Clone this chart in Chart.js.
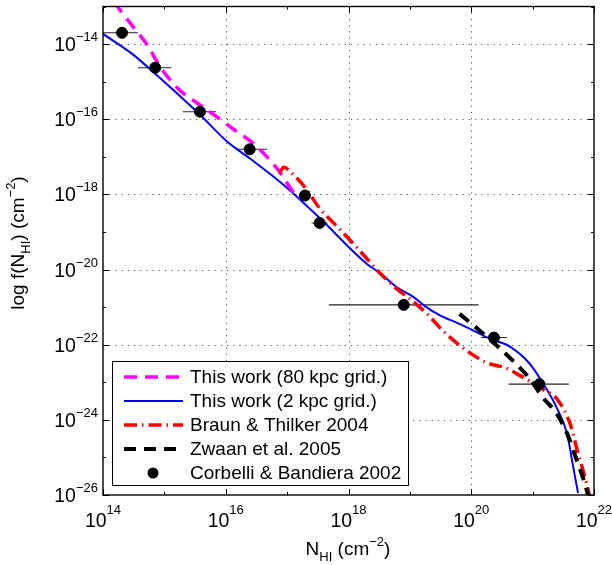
<!DOCTYPE html>
<html>
<head>
<meta charset="utf-8">
<script src="https://cdn.jsdelivr.net/npm/chart.js@4/dist/chart.umd.min.js"></script>
<style>
  body { margin: 0; background: #fff; }
  canvas { display: block; }
</style>
</head>
<body>
<canvas id="chart" width="612" height="565"></canvas>
<script>
/* =======================================================
   DATA (log10 values)
   ======================================================= */
const xTickExp = [14, 16, 18, 20, 22];
const yTickExp = [-14, -16, -18, -20, -22, -24, -26];

// This work (80 kpc grid.)
const coarseLogN = [14.18, 14.24, 14.49, 14.72, 14.93, 15.22, 15.58, 15.79, 16.12, 16.44, 16.67, 16.93, 17.09, 17.21];
const coarseLogF = [-12.87, -13.01, -13.54, -14.02, -14.60, -15.18, -15.62, -15.86, -16.26, -16.63, -17.00, -17.52, -17.92, -18.11];

// This work (2 kpc grid.)
const fineLogN = [14.00, 14.49, 14.81, 15.58, 16.02, 16.39, 16.93, 17.53, 18.30, 18.51, 18.79, 19.05, 19.25, 19.49, 19.77, 19.98, 20.30, 20.63, 20.95, 21.17, 21.39, 21.56, 21.65, 21.74];
const fineLogF = [-13.73, -14.28, -14.73, -15.88, -16.59, -17.04, -17.73, -18.63, -19.85, -20.09, -20.47, -20.72, -20.98, -21.22, -21.42, -21.58, -21.84, -22.05, -22.50, -23.03, -23.67, -24.36, -25.15, -25.95];

// Braun & Thilker 2004
const braunLogN = [16.87, 16.95, 17.08, 17.29, 17.53, 17.86, 18.19, 18.48, 18.79, 19.00, 19.28, 19.54, 19.86, 20.25, 20.55, 20.74, 21.20, 21.39, 21.61, 21.74, 21.88, 21.93];
const braunLogF = [-17.44, -17.28, -17.44, -17.81, -18.37, -18.93, -19.51, -20.04, -20.52, -20.78, -21.18, -21.63, -22.08, -22.48, -22.61, -22.77, -23.22, -23.43, -24.10, -24.89, -25.69, -26.05];

// Zwaan et al. 2005
const zwaanLogN = [19.81, 20.14, 20.42, 20.68, 20.95, 21.17, 21.39, 21.56, 21.72, 21.85, 21.91];
const zwaanLogF = [-21.18, -21.63, -22.03, -22.43, -22.90, -23.41, -23.83, -24.36, -25.08, -25.69, -26.05];

// Corbelli & Bandiera 2002 (with horizontal error bars)
const corbLogN   = [14.31, 14.85, 15.58, 16.39, 17.29, 17.53, 18.90, 20.37, 21.11];
const corbLogF   = [-13.70, -14.63, -15.80, -16.80, -18.03, -18.76, -20.94, -21.81, -23.05];
const corbLogNLo = [14.00, 14.57, 15.30, 16.17, 17.29, 17.40, 17.68, 20.16, 20.61];
const corbLogNHi = [14.57, 15.11, 15.84, 16.67, 17.29, 17.66, 20.12, 20.58, 21.59];

const FONT = '"Liberation Sans", Arial, sans-serif';

function pts(lx, ly) {
    return lx.map((v, i) => ({ x: 10 ** v, y: 10 ** ly[i] }));
}

/* =======================================================
   DATASETS
   ======================================================= */
const datasets = [
    {
        label: "This work (80 kpc grid.)",
        data: pts(coarseLogN, coarseLogF),
        showLine: true, borderColor: "#ff00ff", borderWidth: 3.5,
        borderDash: [13, 8], pointRadius: 0, cubicInterpolationMode: "monotone", order: 3
    },
    {
        label: "This work (2 kpc grid.)",
        data: pts(fineLogN, fineLogF),
        showLine: true, borderColor: "#0000ff", borderWidth: 2,
        pointRadius: 0, cubicInterpolationMode: "monotone", order: 4
    },
    {
        label: "Braun & Thilker 2004",
        data: pts(braunLogN, braunLogF),
        showLine: true, borderColor: "#ff0000", borderWidth: 3.5,
        borderDash: [13, 5, 1.5, 5], pointRadius: 0, cubicInterpolationMode: "monotone", order: 2
    },
    {
        label: "Zwaan et al. 2005",
        data: pts(zwaanLogN, zwaanLogF),
        showLine: true, borderColor: "#000000", borderWidth: 4,
        borderDash: [12, 8], pointRadius: 0, cubicInterpolationMode: "monotone", order: 1
    },
    {
        label: "Corbelli & Bandiera 2002",
        data: pts(corbLogN, corbLogF),
        showLine: false, pointRadius: 5.5, pointBackgroundColor: "#000",
        pointBorderColor: "#000", borderColor: "#000", order: 0
    }
];

// error bars, one two-point segment per measurement
corbLogN.forEach((v, i) => {
    datasets.push({
        isErr: true,
        data: pts([corbLogNLo[i], corbLogNHi[i]], [corbLogF[i], corbLogF[i]]),
        showLine: true, borderColor: "#222", borderWidth: 1.1, pointRadius: 0, order: 6
    });
});

/* =======================================================
   DRAW HELPERS
   ======================================================= */
// draw a run of text pieces: kind "n" normal, "sup", "sub"
function drawRich(ctx, parts, x, y, align, size, supSize, supRise, subDrop) {
    const widths = parts.map(p => {
        ctx.font = (p.k === "n" ? size : supSize) + "px " + FONT;
        return ctx.measureText(p.t).width;
    });
    const total = widths.reduce((a, b) => a + b, 0);
    let cx = align === "right" ? x - total : align === "center" ? x - total / 2 : x;
    ctx.textAlign = "left";
    ctx.textBaseline = "alphabetic";
    parts.forEach((p, i) => {
        ctx.font = (p.k === "n" ? size : supSize) + "px " + FONT;
        let yy = y;
        if (p.k === "sup") yy = y - supRise;
        if (p.k === "sub") yy = y + subDrop;
        ctx.fillText(p.t, cx, yy);
        cx += widths[i];
    });
}

function expLabel(e) {
    return String(e).replace("-", "\u2212");
}

const axesPlugin = {
    id: "axesPlugin",
    beforeDatasetsDraw(chart) {
        const { ctx, chartArea: a, scales } = chart;
        ctx.save();
        ctx.strokeStyle = "#555";
        ctx.lineWidth = 1;
        ctx.setLineDash([1.2, 5]);
        xTickExp.forEach(e => {
            const px = Math.round(scales.x.getPixelForValue(10 ** e)) + 0.5;
            if (px <= a.left + 1 || px >= a.right - 1) return;
            ctx.beginPath(); ctx.moveTo(px, a.top); ctx.lineTo(px, a.bottom); ctx.stroke();
        });
        yTickExp.forEach(e => {
            const py = Math.round(scales.y.getPixelForValue(10 ** e)) + 0.5;
            if (py <= a.top + 1 || py >= a.bottom - 1) return;
            ctx.beginPath(); ctx.moveTo(a.left, py); ctx.lineTo(a.right, py); ctx.stroke();
        });
        ctx.restore();
    },
    afterDatasetsDraw(chart) {
        const { ctx, chartArea: a, scales } = chart;
        ctx.save();
        ctx.setLineDash([]);
        ctx.strokeStyle = "#000";
        ctx.fillStyle = "#000";

        // frame
        ctx.lineWidth = 1.4;
        ctx.strokeRect(a.left, a.top, a.right - a.left, a.bottom - a.top);

        // inward ticks
        ctx.lineWidth = 1;
        for (let e = 14; e <= 22; e++) {
            const len = e % 2 === 0 ? 6 : 3;
            const px = Math.round(scales.x.getPixelForValue(10 ** e)) + 0.5;
            ctx.beginPath();
            ctx.moveTo(px, a.bottom); ctx.lineTo(px, a.bottom - len);
            ctx.moveTo(px, a.top); ctx.lineTo(px, a.top + len);
            ctx.stroke();
        }
        for (let e = -26; e <= -13; e++) {
            const len = e % 2 === 0 ? 6 : 3;
            const py = Math.round(scales.y.getPixelForValue(10 ** e)) + 0.5;
            ctx.beginPath();
            ctx.moveTo(a.left, py); ctx.lineTo(a.left + len, py);
            ctx.moveTo(a.right, py); ctx.lineTo(a.right - len, py);
            ctx.stroke();
        }

        // tick labels
        xTickExp.forEach(e => {
            const px = scales.x.getPixelForValue(10 ** e);
            drawRich(ctx, [{ t: "10", k: "n" }, { t: expLabel(e), k: "sup" }],
                px, a.bottom + 32, "center", 19.5, 13, 13, 0);
        });
        yTickExp.forEach(e => {
            const py = scales.y.getPixelForValue(10 ** e);
            drawRich(ctx, [{ t: "10", k: "n" }, { t: expLabel(e), k: "sup" }],
                a.left - 5, py + 7, "right", 19.5, 13, 10, 0);
        });

        // axis titles
        drawRich(ctx, [
            { t: "N", k: "n" }, { t: "HI", k: "sub" }, { t: " (cm", k: "n" },
            { t: "\u22122", k: "sup" }, { t: ")", k: "n" }
        ], 348, 555, "center", 19, 13, 9, 6);

        ctx.save();
        ctx.translate(24, 243);
        ctx.rotate(-Math.PI / 2);
        drawRich(ctx, [
            { t: "log f(N", k: "n" }, { t: "HI", k: "sub" }, { t: ") (cm", k: "n" },
            { t: "\u22122", k: "sup" }, { t: ")", k: "n" }
        ], 0, 0, "center", 19, 13, 9, 6);
        ctx.restore();

        // legend
        const bx = 112.5, by = 361.5, bw = 296, bh = 124;
        ctx.fillStyle = "#fff";
        ctx.fillRect(bx, by, bw, bh);
        ctx.lineWidth = 1;
        ctx.strokeStyle = "#000";
        ctx.strokeRect(bx, by, bw, bh);
        const entries = chart.data.datasets.filter(d => !d.isErr);
        entries.forEach((d, i) => {
            const ly = 377 + i * 24;
            if (d.showLine) {
                ctx.strokeStyle = d.borderColor;
                ctx.lineWidth = d.borderWidth;
                ctx.setLineDash(d.borderDash || []);
                ctx.beginPath(); ctx.moveTo(124, ly); ctx.lineTo(183, ly); ctx.stroke();
                ctx.setLineDash([]);
            } else {
                ctx.fillStyle = d.pointBackgroundColor;
                ctx.beginPath(); ctx.arc(153, ly, d.pointRadius, 0, Math.PI * 2); ctx.fill();
            }
            ctx.fillStyle = "#000";
            ctx.font = "19px " + FONT;
            ctx.textAlign = "left";
            ctx.textBaseline = "middle";
            ctx.fillText(d.label, 190, ly + 1);
        });
        ctx.restore();
    }
};

/* =======================================================
   CHART
   ======================================================= */
new Chart(document.getElementById("chart"), {
    type: "scatter",
    data: { datasets },
    options: {
        responsive: false,
        devicePixelRatio: 1,
        animation: false,
        layout: { padding: { left: 0, top: 5, right: 18, bottom: 0 } },
        plugins: { legend: { display: false }, tooltip: { enabled: false } },
        scales: {
            x: {
                type: "logarithmic", min: 1e14, max: 1e22,
                ticks: { display: false }, grid: { display: false }, border: { display: false },
                afterFit: s => { s.height = 70; }
            },
            y: {
                type: "logarithmic", min: 1e-26, max: 1e-13,
                ticks: { display: false }, grid: { display: false }, border: { display: false },
                afterFit: s => { s.width = 103; }
            }
        }
    },
    plugins: [axesPlugin]
});
</script>
</body>
</html>
